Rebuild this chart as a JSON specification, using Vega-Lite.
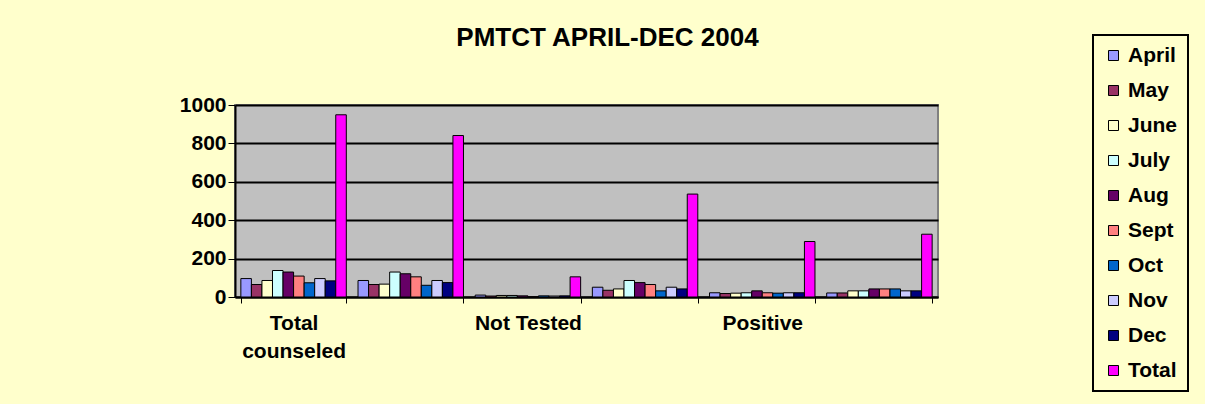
{
  "$schema": "https://vega.github.io/schema/vega-lite/v6.json",
  "autosize": {"type": "none"},
  "width": 703,
  "height": 192,
  "padding": {"left": 235, "top": 105, "right": 267, "bottom": 107},
  "background": "#FFFFCC",
  "title": {
    "text": "PMTCT APRIL-DEC 2004",
    "font": "Liberation Sans",
    "fontSize": 26,
    "fontWeight": "bold",
    "color": "#000000",
    "anchor": "middle",
    "frame": "group",
    "dx": 21,
    "offset": -17
  },
  "config": {
    "view": {"fill": "#C0C0C0", "stroke": "#808080", "strokeWidth": 2},
    "font": "Liberation Sans"
  },
  "data": {
    "values": [
      {"category": "Total counseled", "month": "April", "value": 96},
      {"category": "Total counseled", "month": "May", "value": 65},
      {"category": "Total counseled", "month": "June", "value": 86},
      {"category": "Total counseled", "month": "July", "value": 138},
      {"category": "Total counseled", "month": "Aug", "value": 130},
      {"category": "Total counseled", "month": "Sept", "value": 109},
      {"category": "Total counseled", "month": "Oct", "value": 74},
      {"category": "Total counseled", "month": "Nov", "value": 96},
      {"category": "Total counseled", "month": "Dec", "value": 84},
      {"category": "Total counseled", "month": "Total", "value": 949},
      {"category": "Tested", "month": "April", "value": 86},
      {"category": "Tested", "month": "May", "value": 65},
      {"category": "Tested", "month": "June", "value": 67},
      {"category": "Tested", "month": "July", "value": 130},
      {"category": "Tested", "month": "Aug", "value": 121},
      {"category": "Tested", "month": "Sept", "value": 105},
      {"category": "Tested", "month": "Oct", "value": 61},
      {"category": "Tested", "month": "Nov", "value": 86},
      {"category": "Tested", "month": "Dec", "value": 75},
      {"category": "Tested", "month": "Total", "value": 841},
      {"category": "Not Tested", "month": "April", "value": 10},
      {"category": "Not Tested", "month": "May", "value": 5},
      {"category": "Not Tested", "month": "June", "value": 8},
      {"category": "Not Tested", "month": "July", "value": 8},
      {"category": "Not Tested", "month": "Aug", "value": 6},
      {"category": "Not Tested", "month": "Sept", "value": 2},
      {"category": "Not Tested", "month": "Oct", "value": 6},
      {"category": "Not Tested", "month": "Nov", "value": 5},
      {"category": "Not Tested", "month": "Dec", "value": 6},
      {"category": "Not Tested", "month": "Total", "value": 105},
      {"category": "Negative", "month": "April", "value": 51},
      {"category": "Negative", "month": "May", "value": 35},
      {"category": "Negative", "month": "June", "value": 42},
      {"category": "Negative", "month": "July", "value": 86},
      {"category": "Negative", "month": "Aug", "value": 75},
      {"category": "Negative", "month": "Sept", "value": 65},
      {"category": "Negative", "month": "Oct", "value": 32},
      {"category": "Negative", "month": "Nov", "value": 51},
      {"category": "Negative", "month": "Dec", "value": 42},
      {"category": "Negative", "month": "Total", "value": 536},
      {"category": "Positive", "month": "April", "value": 22},
      {"category": "Positive", "month": "May", "value": 18},
      {"category": "Positive", "month": "June", "value": 20},
      {"category": "Positive", "month": "July", "value": 22},
      {"category": "Positive", "month": "Aug", "value": 32},
      {"category": "Positive", "month": "Sept", "value": 22},
      {"category": "Positive", "month": "Oct", "value": 20},
      {"category": "Positive", "month": "Nov", "value": 22},
      {"category": "Positive", "month": "Dec", "value": 22},
      {"category": "Positive", "month": "Total", "value": 289},
      {"category": "Received NVP", "month": "April", "value": 21},
      {"category": "Received NVP", "month": "May", "value": 21},
      {"category": "Received NVP", "month": "June", "value": 32},
      {"category": "Received NVP", "month": "July", "value": 32},
      {"category": "Received NVP", "month": "Aug", "value": 42},
      {"category": "Received NVP", "month": "Sept", "value": 42},
      {"category": "Received NVP", "month": "Oct", "value": 42},
      {"category": "Received NVP", "month": "Nov", "value": 32},
      {"category": "Received NVP", "month": "Dec", "value": 32},
      {"category": "Received NVP", "month": "Total", "value": 327}
    ]
  },
  "mark": {"type": "bar", "stroke": "#000000", "strokeWidth": 1},
  "encoding": {
    "x": {
      "field": "category",
      "type": "nominal",
      "sort": null,
      "scale": {"paddingInner": 0.1, "paddingOuter": 0.05},
      "axis": {
        "title": null,
        "labelAngle": 0,
        "labelFont": "Liberation Sans",
        "labelFontSize": 21,
        "labelFontWeight": "bold",
        "labelColor": "#000000",
        "labelPadding": 9,
        "labelLineHeight": 28,
        "labelExpr": "datum.value == 'Total counseled' ? ['Total', 'counseled'] : (datum.value == 'Not Tested' || datum.value == 'Positive') ? datum.value : ''",
        "tickBand": "extent",
        "tickColor": "#000000",
        "tickSize": 6,
        "domainColor": "#000000",
        "domainWidth": 2
      }
    },
    "xOffset": {
      "field": "month",
      "type": "nominal",
      "sort": ["April", "May", "June", "July", "Aug", "Sept", "Oct", "Nov", "Dec", "Total"],
      "scale": {"paddingInner": 0, "paddingOuter": 0}
    },
    "y": {
      "field": "value",
      "type": "quantitative",
      "scale": {"domain": [0, 1000]},
      "axis": {
        "title": null,
        "values": [0, 200, 400, 600, 800, 1000],
        "format": "d",
        "labelFont": "Liberation Sans",
        "labelFontSize": 21,
        "labelFontWeight": "bold",
        "labelColor": "#000000",
        "labelPadding": 2,
        "tickColor": "#000000",
        "tickSize": 7,
        "domainColor": "#000000",
        "domainWidth": 2,
        "gridColor": "#000000",
        "gridWidth": 2,
        "gridOpacity": 1
      }
    },
    "color": {
      "field": "month",
      "type": "nominal",
      "scale": {
        "domain": ["April", "May", "June", "July", "Aug", "Sept", "Oct", "Nov", "Dec", "Total"],
        "range": ["#9999FF", "#993366", "#FFFFCC", "#CCFFFF", "#660066", "#FF8080", "#0066CC", "#CCCCFF", "#000080", "#FF00FF"]
      },
      "legend": {
        "title": null,
        "orient": "none",
        "legendX": 858,
        "legendY": -70,
        "symbolType": "square",
        "symbolSize": 100,
        "symbolStrokeColor": "#000000",
        "symbolStrokeWidth": 1,
        "symbolOpacity": 1,
        "labelFont": "Liberation Sans",
        "labelFontSize": 21,
        "labelFontWeight": "bold",
        "labelColor": "#000000",
        "labelOffset": 4,
        "rowPadding": 13,
        "padding": 10,
        "strokeColor": "#000000",
        "fillColor": "#FFFFCC",
        "encode": {"legend": {"update": {"strokeWidth": {"value": 2}}}}
      }
    }
  }
}
